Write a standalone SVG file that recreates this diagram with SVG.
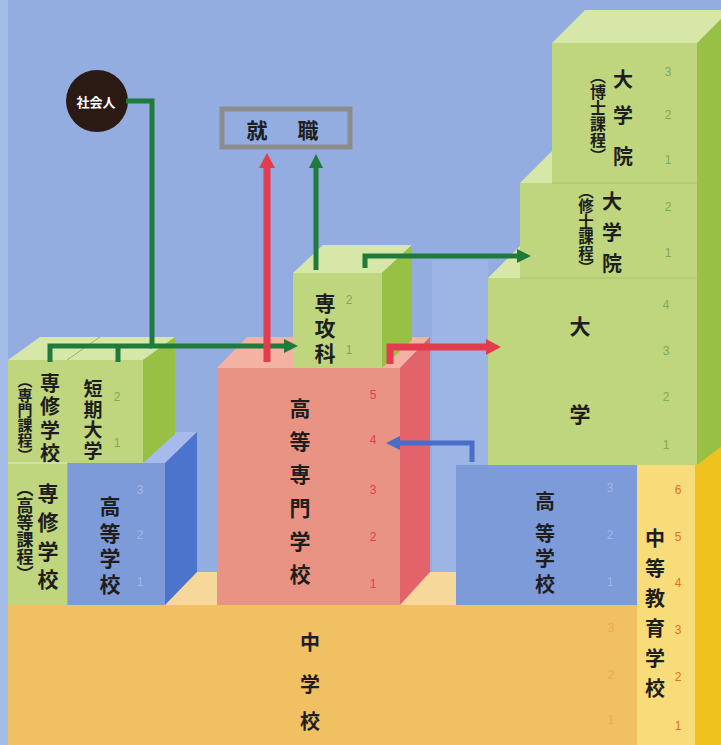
<svg xmlns="http://www.w3.org/2000/svg" width="721" height="745" viewBox="0 0 721 745">
<style>
.lbl{font-family:"Noto Sans CJK JP","Noto Sans CJK SC",sans-serif;font-weight:700;fill:#1e1e1e;text-anchor:middle;dominant-baseline:central}
.vl{font-family:"Noto Sans CJK JP","Noto Sans CJK SC",sans-serif;font-weight:700;fill:#1e1e1e;writing-mode:vertical-rl}
.num{font-family:"Liberation Sans",Arial,sans-serif;font-size:12px;text-anchor:middle;dominant-baseline:central}
.gf{fill:#bfd57e}.gt{fill:#d7e7a8}.gs{fill:#98c044}
.g-n{fill:#7fa85a}.r-n{fill:#e0404f}.b-n{fill:#a3b6ea}.o-n{fill:#f1aa4c}.y-n{fill:#e0701e}
.cg{fill:none;stroke:#1f7a3c;stroke-width:5}
.cr{fill:none;stroke:#e23c4e;stroke-width:7}
.cb{fill:none;stroke:#4a6dc8;stroke-width:5}
</style>
<defs>
<marker id="ag" markerUnits="userSpaceOnUse" markerWidth="16" markerHeight="16" refX="2" refY="8" orient="auto"><path d="M0,1 L14,8 L0,15 Z" fill="#1f7a3c"/></marker>
<marker id="ar" markerUnits="userSpaceOnUse" markerWidth="18" markerHeight="18" refX="2" refY="9" orient="auto"><path d="M0,1 L15,9 L0,17 Z" fill="#e23c4e"/></marker>
<marker id="ab" markerUnits="userSpaceOnUse" markerWidth="16" markerHeight="16" refX="2" refY="8" orient="auto"><path d="M0,1 L14,8 L0,15 Z" fill="#4a6dc8"/></marker>
</defs>
<rect width="721" height="745" fill="#93ade0"/>
<rect x="0" y="0" width="8" height="745" fill="#a3bce8"/>
<rect x="432" y="260" width="56" height="312" fill="#9cb5e5"/>
<!-- floor -->
<rect x="160" y="572" width="300" height="33" fill="#f6d89a"/>

<g id="chugakko">
<rect x="8" y="605" width="630" height="140" fill="#f0c062"/>
<text class="lbl" font-size="20" x="310 310 310" y="641 683 720">中学校</text>
<text class="num o-n" x="611" y="628">3</text>
<text class="num o-n" x="611" y="675">2</text>
<text class="num o-n" x="611" y="720">1</text>
</g>

<g id="chuto">
<polygon points="695,465 721,440 721,745 695,745" fill="#f0c21e"/>
<rect x="637" y="465" width="58" height="280" fill="#f8dc7a"/>
<text class="lbl" font-size="20" x="655 655 655 655 655 655" y="537 567 597 627 657 687">中等教育学校</text>
<text class="num y-n" x="678" y="490">6</text>
<text class="num y-n" x="678" y="537">5</text>
<text class="num y-n" x="678" y="583">4</text>
<text class="num y-n" x="678" y="630">3</text>
<text class="num y-n" x="678" y="677">2</text>
<text class="num y-n" x="678" y="726">1</text>
</g>

<g id="daigaku">
<polygon points="697,43 730,10 730,440 697,465" class="gs"/>
<polygon points="488,278 520,278 520,246" class="gt"/>
<rect x="488" y="278" width="209" height="187" class="gf"/>
<text class="lbl" font-size="21" x="580 580" y="325 413">大学</text>
<text class="num g-n" x="666" y="305">4</text>
<text class="num g-n" x="666" y="351">3</text>
<text class="num g-n" x="666" y="397">2</text>
<text class="num g-n" x="666" y="445">1</text>
</g>

<g id="shushi">
<polygon points="520,183 552,183 552,151" class="gt"/>
<rect x="520" y="183" width="177" height="95" class="gf"/>
<line x1="520" y1="278" x2="697" y2="278" stroke="#a8c070" stroke-width="1"/>
<text class="lbl" font-size="20" x="612 612 612" y="200 231 262">大学院</text>
<text class="vl" font-size="15.5" x="586" y="183">（修士課程）</text>
<text class="num g-n" x="668" y="207">2</text>
<text class="num g-n" x="668" y="253">1</text>
</g>

<g id="hakushi">
<polygon points="552,43 697,43 730,10 585,10" class="gt"/>
<rect x="552" y="43" width="145" height="140" class="gf"/>
<line x1="552" y1="183" x2="697" y2="183" stroke="#a8c070" stroke-width="1"/>
<text class="lbl" font-size="20" x="623 623 623" y="78 114 155">大学院</text>
<text class="vl" font-size="16" x="598" y="68">（博士課程）</text>
<text class="num g-n" x="668" y="72">3</text>
<text class="num g-n" x="668" y="115">2</text>
<text class="num g-n" x="668" y="160">1</text>
</g>

<g id="koko-right">
<rect x="456" y="465" width="181" height="140" fill="#7d9bd9"/>
<text class="lbl" font-size="20" x="545 545 545 545" y="500 532 557 583">高等学校</text>
<text class="num b-n" x="610" y="488">3</text>
<text class="num b-n" x="610" y="535">2</text>
<text class="num b-n" x="610" y="582">1</text>
</g>

<g id="kosen">
<polygon points="217,368 400,368 430,337 247,337" fill="#f3b2a2"/>
<polygon points="400,368 430,337 430,572 400,605" fill="#e2636a"/>
<rect x="217" y="368" width="183" height="237" fill="#e99384"/>
<text class="lbl" font-size="21" x="300 300 300 300 300 300" y="407 440 473 507 540 573">高等専門学校</text>
<text class="num r-n" x="373" y="395">5</text>
<text class="num r-n" x="373" y="440">4</text>
<text class="num r-n" x="373" y="490">3</text>
<text class="num r-n" x="373" y="537">2</text>
<text class="num r-n" x="373" y="584">1</text>
</g>

<g id="senkoka">
<polygon points="293,273 382,273 412,245 323,245" class="gt"/>
<polygon points="382,273 412,245 412,340 382,368" class="gs"/>
<rect x="293" y="273" width="89" height="95" class="gf"/>
<text class="lbl" font-size="21" x="325 325 325" y="302 327 352">専攻科</text>
<text class="num g-n" x="349" y="300">2</text>
<text class="num g-n" x="349" y="350">1</text>
</g>

<g id="koko-left">
<polygon points="68,463 165,463 197,432 100,432" fill="#a6bbec"/>
<polygon points="165,463 197,432 197,572 165,605" fill="#4d74cc"/>
<rect x="68" y="463" width="97" height="142" fill="#7d9bd9"/>
<text class="lbl" font-size="21" x="110 110 110 110" y="505 532 557 583">高等学校</text>
<text class="num b-n" x="140" y="490">3</text>
<text class="num b-n" x="140" y="535">2</text>
<text class="num b-n" x="140" y="582">1</text>
</g>

<g id="senshu-senmon">
<polygon points="8,360 67,360 100,337 40,337" class="gt"/>
<rect x="8" y="360" width="59" height="103" class="gf"/>
<text class="lbl" font-size="20" x="50 50 50 50" y="382 405 429 452">専修学校</text>
<text class="vl" font-size="15" x="25" y="373">（専門課程）</text>
</g>

<g id="tandai">
<polygon points="67,360 143,360 175,337 100,337" class="gt"/>
<polygon points="143,360 175,337 175,434 143,463" class="gs"/>
<rect x="67" y="360" width="76" height="103" class="gf"/>
<line x1="67" y1="360" x2="100" y2="337" stroke="#a0b070" stroke-width="1"/>
<text class="lbl" font-size="19" x="93 93 93 93" y="387 408 428 449">短期大学</text>
<text class="num g-n" x="117" y="397">2</text>
<text class="num g-n" x="117" y="443">1</text>
</g>

<g id="senshu-koto">
<rect x="8" y="463" width="59" height="142" class="gf"/>
<line x1="8" y1="463" x2="67" y2="463" stroke="#d8e6b0" stroke-width="1.5"/>
<text class="lbl" font-size="21" x="48 48 48 48" y="492 521 550 578">専修学校</text>
<text class="vl" font-size="17" x="25" y="480">（高等課程）</text>
</g>

<g id="shakaijin">
<circle cx="97" cy="101" r="31" fill="#2b1a14"/>
<text x="96" y="101" font-family="'Noto Sans CJK JP',sans-serif" font-size="13" font-weight="700" fill="#ffffff" text-anchor="middle" dominant-baseline="central">社会人</text>
</g>

<g id="shushoku">
<rect x="222" y="109" width="128" height="38" fill="#93ade0" stroke="#8c8c8c" stroke-width="5"/>
<text class="lbl" font-size="21" x="257 308" y="129 129">就職</text>
</g>

<g id="connectors">
<polyline class="cg" points="126,101 152,101 152,346 286,346" marker-end="url(#ag)"/>
<polyline class="cg" points="50,362 50,346 152,346"/>
<polyline class="cg" points="118,362 118,346"/>
<polyline class="cr" points="267,362 267,166" marker-end="url(#ar)"/>
<polyline class="cg" points="316,270 316,166" marker-end="url(#ag)"/>
<polyline class="cg" points="365,268 365,256 519,256" marker-end="url(#ag)"/>
<polyline class="cr" points="390,364 390,347 488,347" marker-end="url(#ar)"/>
<polyline class="cb" points="472,462 472,443 398,443" marker-end="url(#ab)"/>
</g>
</svg>
